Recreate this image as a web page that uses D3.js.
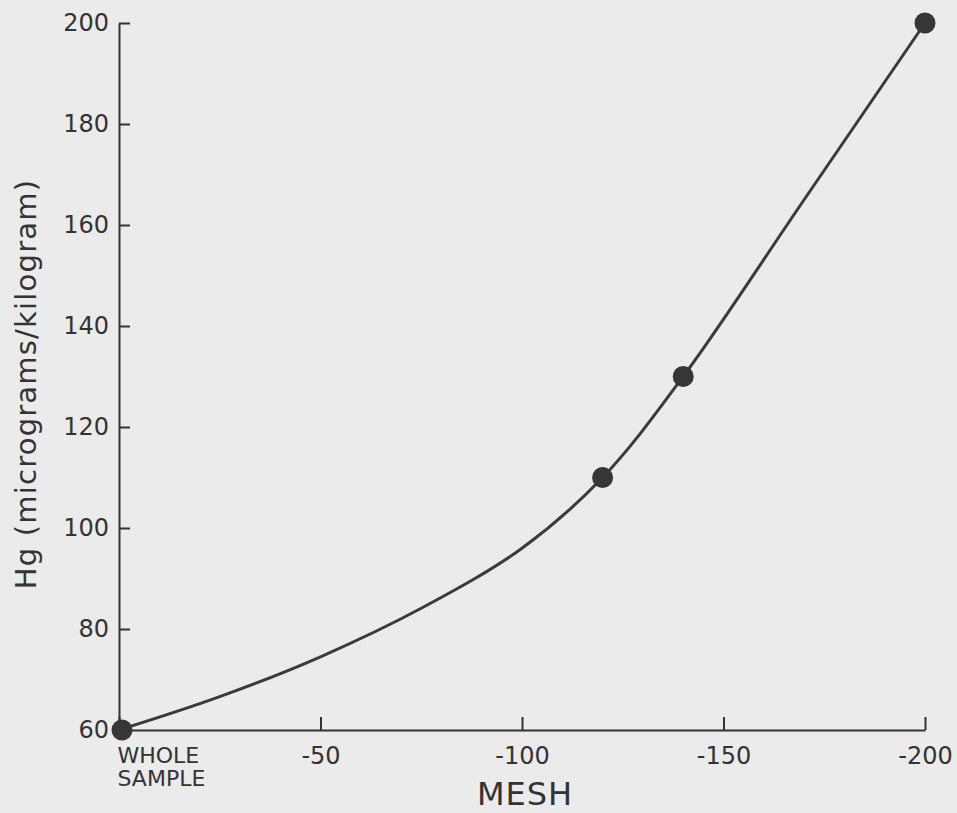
<!DOCTYPE html>
<html>
<head>
<meta charset="utf-8">
<script src="https://cdn.jsdelivr.net/npm/d3@7"></script>
<style>
  html, body { margin: 0; padding: 0; background: #ebebeb; }
  svg { display: block; }
  text { font-family: "DejaVu Sans", sans-serif; fill: #333; }
</style>
</head>
<body>
<svg id="chart" width="957" height="813"></svg>
<script>
// ---- data ----
const meshTicks = [0, -50, -100, -150, -200];
const meshTickLabels = ["WHOLE SAMPLE", "-50", "-100", "-150", "-200"];
const hgTicks = [60, 80, 100, 120, 140, 160, 180, 200];

// measured samples (markers)
const sampleMesh = [0, -120, -140, -200];
const sampleHg = [60, 110, 130, 200];

// hand-drawn fitted curve
const curveMesh = [0, -25, -50, -75, -100, -120, -140, -170, -200];
const curveHg = [60, 66.6, 74.5, 84.1, 96.0, 110, 130, 165, 200];

const xTitle = "MESH";
const yTitle = "Hg (micrograms/kilogram)";

// ---- drawing ----
const svg = d3.select("#chart");
const ink = "#333";

const x = d3.scaleLinear().domain([0, -200]).range([119, 925]);
const y = d3.scaleLinear().domain([60, 200]).range([730, 23]);

// x axis
const xAxis = d3.axisBottom(x)
  .tickValues(meshTicks)
  .tickSizeInner(-13)
  .tickSizeOuter(0)
  .tickPadding(17)
  .tickFormat((d, i) => meshTickLabels[i]);

const gx = svg.append("g")
  .attr("transform", `translate(0,${y(60)})`)
  .call(xAxis);
gx.select(".domain").attr("stroke", ink).attr("stroke-width", 2);
gx.selectAll(".tick line").attr("stroke", ink).attr("stroke-width", 2);
gx.selectAll(".tick text")
  .style("font-family", '"DejaVu Sans", sans-serif')
  .style("font-size", "24px")
  .attr("fill", ink);

// first tick: two-line left-aligned label
gx.selectAll(".tick").filter(d => d === 0).each(function() {
  const t = d3.select(this).select("text");
  const words = meshTickLabels[0].split(" ");
  t.text(null).attr("text-anchor", "start").attr("x", -2).style("font-size", "22px");
  words.forEach((w, k) => {
    t.append("tspan").attr("x", -2).attr("dy", k === 0 ? "0.71em" : "1.05em").text(w);
  });
});

// y axis
const yAxis = d3.axisLeft(y)
  .tickValues(hgTicks)
  .tickSizeInner(-11)
  .tickSizeOuter(0)
  .tickPadding(10)
  .tickFormat(d3.format("d"));

const gy = svg.append("g")
  .attr("transform", `translate(${x(0)},0)`)
  .call(yAxis);
gy.select(".domain").attr("stroke", ink).attr("stroke-width", 2);
gy.selectAll(".tick line").attr("stroke", ink).attr("stroke-width", 2);
gy.selectAll(".tick text")
  .style("font-family", '"DejaVu Sans", sans-serif')
  .style("font-size", "24px")
  .attr("fill", ink);
gy.selectAll(".tick").filter(d => d === 60).select("line").remove();

// fitted curve
const curveData = curveMesh.map((m, i) => ({ m, v: curveHg[i] }));
const line = d3.line()
  .x(d => x(d.m))
  .y(d => y(d.v))
  .curve(d3.curveCatmullRom.alpha(0.5));

svg.append("path")
  .datum(curveData)
  .attr("fill", "none")
  .attr("stroke", "#3a3a3a")
  .attr("stroke-width", 3)
  .attr("stroke-linejoin", "round")
  .attr("d", line);

// sample markers
const samples = sampleMesh.map((m, i) => ({ m, v: sampleHg[i] }));
svg.append("g").selectAll("circle")
  .data(samples)
  .join("circle")
  .attr("cx", d => x(d.m) + (d.m === 0 ? 3 : 0))
  .attr("cy", d => y(d.v))
  .attr("r", 10.5)
  .attr("fill", "#363636");

// axis titles
svg.append("text")
  .attr("x", 525)
  .attr("y", 805)
  .attr("text-anchor", "middle")
  .style("font-size", "32px")
  .style("font-weight", "500")
  .style("letter-spacing", "1px")
  .text(xTitle);

svg.append("text")
  .attr("transform", `translate(36,${384}) rotate(-90)`)
  .attr("text-anchor", "middle")
  .style("font-size", "29px")
  .style("letter-spacing", "1.2px")
  .text(yTitle);
</script>
</body>
</html>
